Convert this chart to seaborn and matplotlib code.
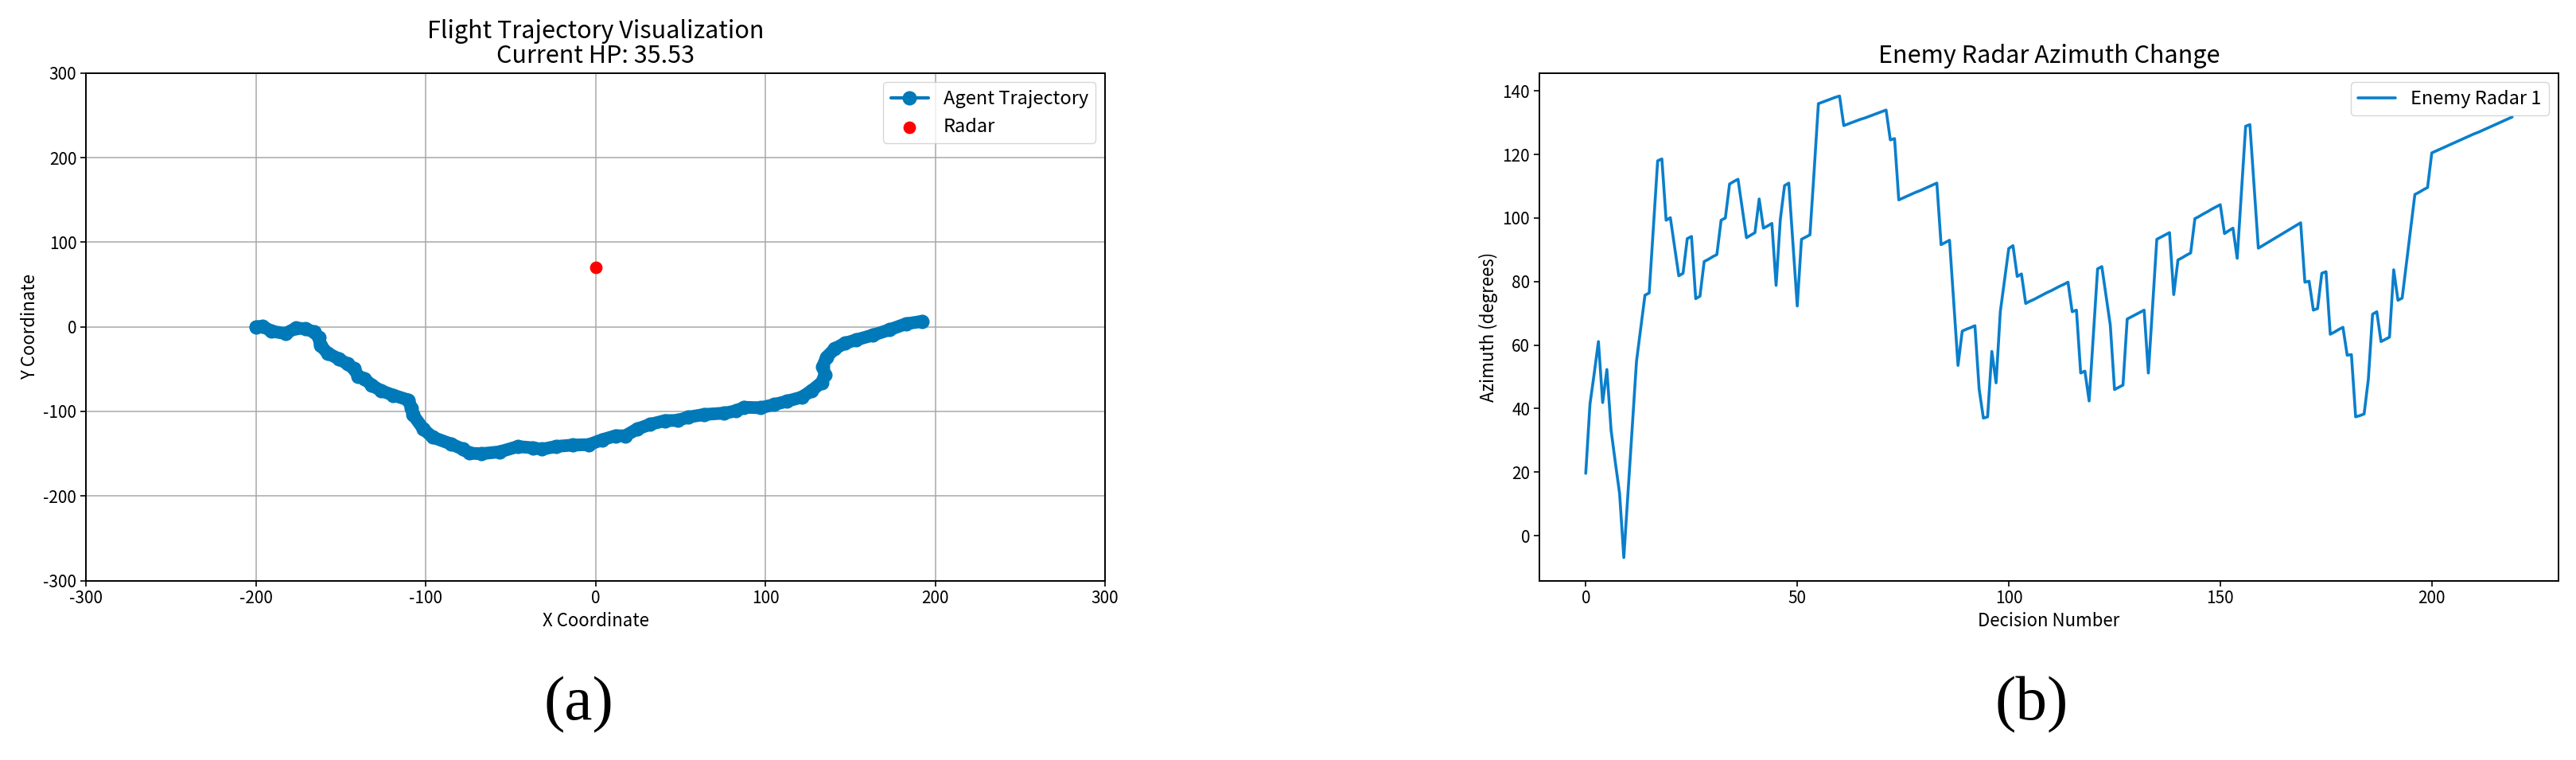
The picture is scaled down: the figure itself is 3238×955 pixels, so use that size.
import matplotlib
matplotlib.use("Agg")
import matplotlib.pyplot as plt
import seaborn as sns
import numpy as np
import pandas as pd

# ---------------- data ----------------
traj_x = [-200, -196, -190.7, -182.6, -176.4, -171, -165.6, -163, -162, -157.6,
          -151.3, -146, -142.4, -139.7, -136.1, -131.7, -126.3, -119.1, -110.2,
          -108.4, -107.5, -101.3, -95.9, -85.2, -78, -74.4, -67.3, -56.5, -45.8,
          -36.9, -31.5, -23.3, -13.6, -3.9, 3.9, 11.7, 17.5, 24.3, 32.1, 40.8,
          48.6, 54.4, 64.1, 75.8, 82.6, 87.5, 97.2, 105, 112.7, 121.5, 127.3,
          133.1, 135.1, 133.7, 136, 140.9, 146.7, 153.5, 163.3, 173, 182.7, 192.4]
traj_y = [0, 0.6, -5.3, -7.9, -1.6, -2.2, -6.3, -12.6, -22, -31.4,
          -37.7, -44, -49.4, -58.2, -61.3, -69.2, -75.5, -80.8, -86.5,
          -95.9, -103.8, -121, -130.5, -138.4, -144.7, -149.4, -150, -147.8, -141.5,
          -143, -144.7, -141.4, -139.8, -139.2, -133.5, -128.8, -128.8, -121, -115.3, -110.9,
          -110.6, -106.8, -103.6, -102, -99.5, -95.1, -95.7, -92, -87.9, -83.1, -75.3,
          -65.8, -56.4, -46.9, -35.9, -25.8, -19.5, -15.4, -9.8, -3.5, 3.5, 6.5]
radar_x = [0]
radar_y = [70]
hp_value = 35.53

azimuth = [19.6, 41.4, 51.0, 61.1, 41.9, 52.3, 33.1, 23.0, 13.3, -6.9,
           13.7, 34.3, 54.9, 65.3, 75.7, 76.4, 97.0, 118.0, 118.6, 99.3,
           100.1, 91.0, 81.8, 82.6, 93.5, 94.2, 74.6, 75.4, 86.3, 87.0,
           87.8, 88.5, 99.3, 100.0, 110.7, 111.5, 112.2, 103.0, 93.8, 94.6,
           95.4, 106.0, 96.8, 97.5, 98.3, 78.8, 99.6, 110.2, 111.0, 91.6,
           72.3, 93.3, 94.0, 94.7, 115.0, 136.0, 136.5, 137.0, 137.5, 138.0,
           138.4, 129.1, 129.6, 130.1, 130.6, 131.1, 131.5, 132.0, 132.5, 133.0,
           133.5, 134.0, 124.6, 125.0, 105.7, 106.3, 106.9, 107.5, 108.1, 108.6,
           109.2, 109.8, 110.4, 111.0, 91.6, 92.3, 93.0, 73.3, 53.6, 64.4,
           65.0, 65.5, 66.1, 46.1, 37.0, 37.4, 58.0, 48.1, 70.5, 80.5,
           90.4, 91.3, 81.6, 82.4, 73.1, 73.8, 74.4, 75.1, 75.8, 76.5,
           77.1, 77.8, 78.5, 79.1, 79.8, 70.5, 71.0, 51.2, 51.8, 42.4,
           63.2, 84.0, 84.7, 75.5, 66.3, 46.0, 46.7, 47.4, 68.2, 68.9,
           69.6, 70.3, 71.0, 51.2, 72.2, 93.3, 94.0, 94.7, 95.4, 75.9,
           86.8, 87.5, 88.3, 89.0, 99.8, 100.5, 101.3, 102.0, 102.8, 103.5,
           104.2, 95.1, 96.0, 96.8, 87.3, 108.1, 128.9, 129.4, 110.0, 90.5,
           91.3, 92.1, 92.9, 93.7, 94.5, 95.3, 96.1, 96.9, 97.7, 98.5,
           79.8, 80.1, 71.0, 71.5, 82.6, 83.1, 63.4, 64.1, 64.9, 65.6,
           56.8, 57.0, 37.4, 37.8, 38.3, 49.2, 69.7, 70.5, 61.1, 61.8,
           62.5, 83.7, 74.1, 74.8, 85.7, 96.5, 107.4, 108.1, 108.9, 109.6,
           120.5, 121.1, 121.7, 122.3, 122.9, 123.5, 124.1, 124.7, 125.3, 125.9,
           126.5, 127.0, 127.6, 128.2, 128.8, 129.4, 130.0, 130.6, 131.2, 131.8]
decision = list(range(len(azimuth)))

panel_labels = ["(a)", "(b)"]

# ---------------- style ----------------
sns.set_style("ticks")
plt.rcParams['font.family'] = ['Noto Sans CJK SC', 'DejaVu Sans']
plt.rcParams['axes.unicode_minus'] = False
plt.rcParams['axes.edgecolor'] = 'black'
plt.rcParams['xtick.color'] = 'black'
plt.rcParams['ytick.color'] = 'black'
plt.rcParams['text.color'] = 'black'
plt.rcParams['axes.labelcolor'] = 'black'

TRAJ_COLOR = '#0079b9'
LINE_COLOR = '#0a7fcc'

fig = plt.figure(figsize=(32.38, 9.55), dpi=100)
ax1 = fig.add_axes([0.0334, 0.236, 0.3956, 0.668])
ax2 = fig.add_axes([0.5976, 0.236, 0.3956, 0.668])

# ---------------- panel (a) ----------------
traj_df = pd.DataFrame({"x": traj_x, "y": traj_y})
# thick band formed by the densely packed trajectory markers
sns.lineplot(data=traj_df, x="x", y="y", sort=False, ax=ax1, color=TRAJ_COLOR,
             linewidth=11.5, solid_capstyle='round', solid_joinstyle='round',
             legend=False)
sns.lineplot(data=traj_df, x="x", y="y", sort=False, ax=ax1, color=TRAJ_COLOR,
             linewidth=3, marker='o', markersize=12, markeredgecolor=TRAJ_COLOR,
             markeredgewidth=1, label="Agent Trajectory")
radar_df = pd.DataFrame({"x": radar_x, "y": radar_y})
sns.scatterplot(data=radar_df, x="x", y="y", ax=ax1, color='red', s=130,
                edgecolor='red', linewidth=0, label="Radar", zorder=3)
ax1.set_xlim(-300, 300)
ax1.set_ylim(-300, 300)
ax1.set_xticks(np.arange(-300, 301, 100))
ax1.set_yticks(np.arange(-300, 301, 100))
ax1.grid(True, color='#a8a8a8', linewidth=1.1)
ax1.set_axisbelow(True)
ax1.set_title(f"Flight Trajectory Visualization\nCurrent HP: {hp_value:.2f}",
              fontsize=22, pad=9, linespacing=1.0)
ax1.set_xlabel("X Coordinate", fontsize=16)
ax1.set_ylabel("Y Coordinate", fontsize=16)
ax1.tick_params(labelsize=15, width=1.2, length=5)
ax1.legend(loc='upper right', fontsize=17)

# ---------------- panel (b) ----------------
az_df = pd.DataFrame({"Decision Number": decision, "Azimuth": azimuth})
sns.lineplot(data=az_df, x="Decision Number", y="Azimuth", ax=ax2,
             color=LINE_COLOR, linewidth=2.6, label="Enemy Radar 1")
ax2.set_xticks([0, 50, 100, 150, 200])
ax2.set_yticks(np.arange(0, 141, 20))
ax2.set_title("Enemy Radar Azimuth Change", fontsize=22, pad=9)
ax2.set_xlabel("Decision Number", fontsize=16)
ax2.set_ylabel("Azimuth (degrees)", fontsize=16)
ax2.tick_params(labelsize=15, width=1.2, length=5)
ax2.legend(loc='upper right', fontsize=17)

for ax in (ax1, ax2):
    for sp in ax.spines.values():
        sp.set_visible(True)
        sp.set_color('black')
        sp.set_linewidth(1.4)

# ---------------- panel labels ----------------
fig.text(727 / 3238, 1 - 886 / 955, panel_labels[0], family='Liberation Serif',
         fontsize=57, ha='center', va='center')
fig.text(2554 / 3238, 1 - 886 / 955, panel_labels[1], family='Liberation Serif',
         fontsize=57, ha='center', va='center')

fig.savefig("out.png", dpi=100)
